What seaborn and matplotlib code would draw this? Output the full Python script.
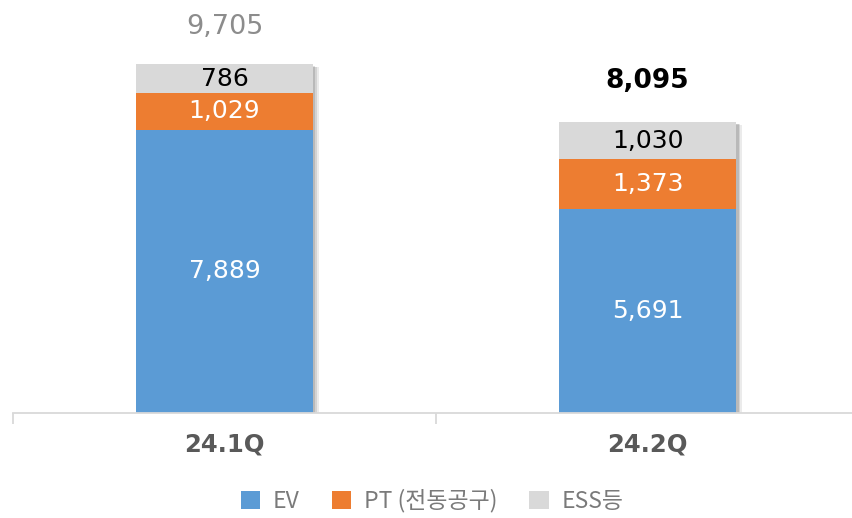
import matplotlib
matplotlib.use("Agg")
import matplotlib.pyplot as plt
import matplotlib.patheffects as pe
from matplotlib.patches import Patch
from matplotlib.font_manager import FontProperties
import seaborn as sns
import pandas as pd

categories = ["24.1Q", "24.2Q"]
ev = [7889, 5691]
pt = [1029, 1373]
ess = [786, 1030]
totals = [9705, 8095]
series_names = ["EV", "PT (전동공구)", "ESS등"]

sns.set_theme(style="white")
plt.rcParams['font.family'] = ['DejaVu Sans', 'Noto Sans CJK KR']

colors = ["#5B9BD5", "#ED7D31", "#D9D9D9"]

df = pd.DataFrame({"cat": categories, "ev": ev, "pt": pt, "ess": ess, "total": totals})
df["c1"] = df["ev"]
df["c2"] = df["ev"] + df["pt"]
df["c3"] = df["ev"] + df["pt"] + df["ess"]

fig = plt.figure(figsize=(8.52, 5.18), dpi=100)
ax = fig.add_axes([13/852, 1 - 413/518, 1 - 13/852, 413/518])

w = 0.418
sns.barplot(data=df, x="cat", y="c3", color=colors[2], width=w, saturation=1, ax=ax,
            linewidth=0, errorbar=None)
sns.barplot(data=df, x="cat", y="c2", color=colors[1], width=w, saturation=1, ax=ax,
            linewidth=0, errorbar=None)
sns.barplot(data=df, x="cat", y="c1", color=colors[0], width=w, saturation=1, ax=ax,
            linewidth=0, errorbar=None)

n = len(categories)
for p in ax.patches[:n]:
    p.set_path_effects([
        pe.SimplePatchShadow(offset=(4, -2), shadow_rgbFace="#000000", alpha=0.08),
        pe.SimplePatchShadow(offset=(3, -1.5), shadow_rgbFace="#000000", alpha=0.10),
        pe.SimplePatchShadow(offset=(1.8, -1), shadow_rgbFace="#000000", alpha=0.12),
        pe.Normal()])

fs = 18
for i in range(n):
    ax.text(i, ev[i] / 2, f"{ev[i]:,}", ha="center", va="center", color="white", fontsize=fs)
    ax.text(i, ev[i] + pt[i] / 2, f"{pt[i]:,}", ha="center", va="center", color="white", fontsize=fs)
    ax.text(i, ev[i] + pt[i] + ess[i] / 2, f"{ess[i]:,}", ha="center", va="center", color="black", fontsize=fs)

ax.annotate(f"{totals[0]:,}", (0, df["c3"][0]), xytext=(0, 22), textcoords="offset points",
            ha="center", va="baseline", color="#8C8C8C", fontsize=19.5)
ax.annotate(f"{totals[1]:,}", (1, df["c3"][1]), xytext=(0, 25), textcoords="offset points",
            ha="center", va="baseline", color="black", fontsize=19, fontweight="bold")

ax.set_xlabel("")
ax.set_ylabel("")
ax.set_yticks([])
for s in ["top", "right", "left"]:
    ax.spines[s].set_visible(False)
ax.spines["bottom"].set_color("#D9D9D9")
ax.spines["bottom"].set_linewidth(1.3)
ax.set_xticks([-0.5, 0.5, 1.5], minor=True)
ax.tick_params(axis="x", which="minor", length=8, color="#D9D9D9", width=1.3, bottom=True)
ax.tick_params(axis="x", which="major", length=0, pad=14, labelsize=17.5, labelcolor="#595959")
for lbl in ax.get_xticklabels():
    lbl.set_fontweight("bold")
ax.set_xlim(-0.5, 1.483)
ax.set_ylim(0, 11500)

handles = [Patch(facecolor=c, edgecolor="none") for c in colors]
fig.legend(handles, series_names, loc="center", bbox_to_anchor=(432/852, 1 - 501/518),
           ncol=3, frameon=False, prop=FontProperties(family=["Noto Sans CJK KR", "DejaVu Sans"], size=16.5),
           labelcolor="#7A7A7A", handlelength=0.85, handleheight=0.8, handletextpad=0.55,
           columnspacing=1.4, borderpad=0, borderaxespad=0)

fig.savefig("out.png", dpi=100)
